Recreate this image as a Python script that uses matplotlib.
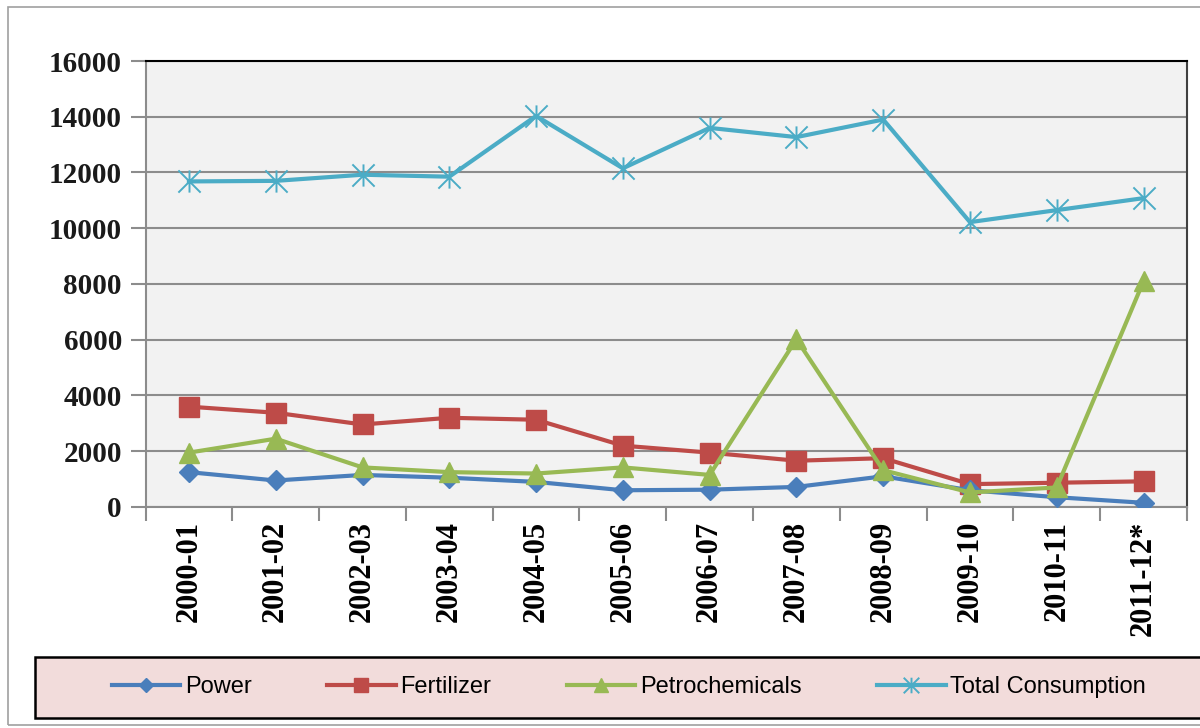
import matplotlib.pyplot as plt
from matplotlib.patches import Rectangle
from matplotlib.path import Path

# consumption by sector
years = ['2000-01', '2001-02', '2002-03', '2003-04', '2004-05', '2005-06',
         '2006-07', '2007-08', '2008-09', '2009-10', '2010-11', '2011-12*']
power = [1250, 950, 1150, 1050, 900, 600, 620, 720, 1100, 600, 350, 150]
fertilizer = [3600, 3380, 2960, 3200, 3130, 2200, 1950, 1660, 1750, 820, 870, 920]
petrochemicals = [1950, 2450, 1420, 1250, 1200, 1420, 1150, 6020, 1320, 520, 700, 8100]
total = [11680, 11700, 11920, 11850, 14030, 12150, 13600, 13270, 13900, 10220, 10650, 11080]

# excel style star marker: X with a vertical line
star = Path([(-1, -1), (1, 1), (-1, 1), (1, -1), (0, -1), (0, 1)],
            [Path.MOVETO, Path.LINETO, Path.MOVETO, Path.LINETO, Path.MOVETO, Path.LINETO])

fig = plt.figure(figsize=(12, 7.28), dpi=100)
ax = fig.add_axes([0.1213, 0.3036, 0.8678, 0.6126])
ax.set_facecolor('#f2f2f2')

x = range(len(years))
ax.plot(x, power, color='#4a7ebb', lw=3, marker='D', ms=10, label='Power', zorder=5)
ax.plot(x, fertilizer, color='#be4b48', lw=3, marker='s', ms=14, label='Fertilizer', zorder=4)
ax.plot(x, petrochemicals, color='#98b954', lw=3, marker='^', ms=14, label='Petrochemicals', zorder=6)
ax.plot(x, total, color='#4bacc6', lw=3, marker=star, ms=16, mew=1.4, label='Total Consumption', zorder=3)

ax.set_xlim(-0.5, len(years) - 0.5)
ax.set_ylim(0, 16000)
ax.set_yticks(range(0, 16001, 2000))
ax.yaxis.grid(True, color='#8c8c8c', lw=1.5)
ax.set_axisbelow(True)

ax.set_xticks(list(x))
ax.set_xticklabels(years, rotation=90, fontfamily='Liberation Serif', fontweight='bold', fontsize=22)
ax.set_xticks([i - 0.5 for i in range(len(years) + 1)], minor=True)
ax.tick_params(axis='x', which='major', length=0, pad=10)
ax.tick_params(axis='x', which='minor', length=10, width=1.5, color='#8c8c8c')
ax.tick_params(axis='y', length=11, width=1.5, color='#8c8c8c', pad=6)
for lab in ax.get_yticklabels():
    lab.set_fontfamily('Liberation Serif')
    lab.set_fontweight('bold')
    lab.set_fontsize(21)
    lab.set_color('#1a1a1a')

ax.spines['top'].set_color('black')
ax.spines['top'].set_linewidth(1.5)
ax.spines['right'].set_color('#404040')
ax.spines['right'].set_linewidth(1.5)
ax.spines['left'].set_color('#8c8c8c')
ax.spines['left'].set_linewidth(1.5)
ax.spines['bottom'].set_color('#8c8c8c')
ax.spines['bottom'].set_linewidth(1.5)

# outer chart border and legend box
fig.patches.append(Rectangle((0.0067, 0.004), 1.0, 0.9864, transform=fig.transFigure,
                             fill=False, edgecolor='#a0a0a0', lw=1.2))
fig.patches.append(Rectangle((0.029, 0.0137), 1.0, 0.0838, transform=fig.transFigure,
                             facecolor='#f2dcdb', edgecolor='black', lw=1.8))

fig.legend(loc='center', bbox_to_anchor=(0.524, 0.056), ncol=4, frameon=False,
           prop={'family': 'Liberation Sans', 'size': 17}, handlelength=2.9,
           columnspacing=3.2, handletextpad=0.2, markerscale=0.7)

fig.savefig('out.png', dpi=100)
